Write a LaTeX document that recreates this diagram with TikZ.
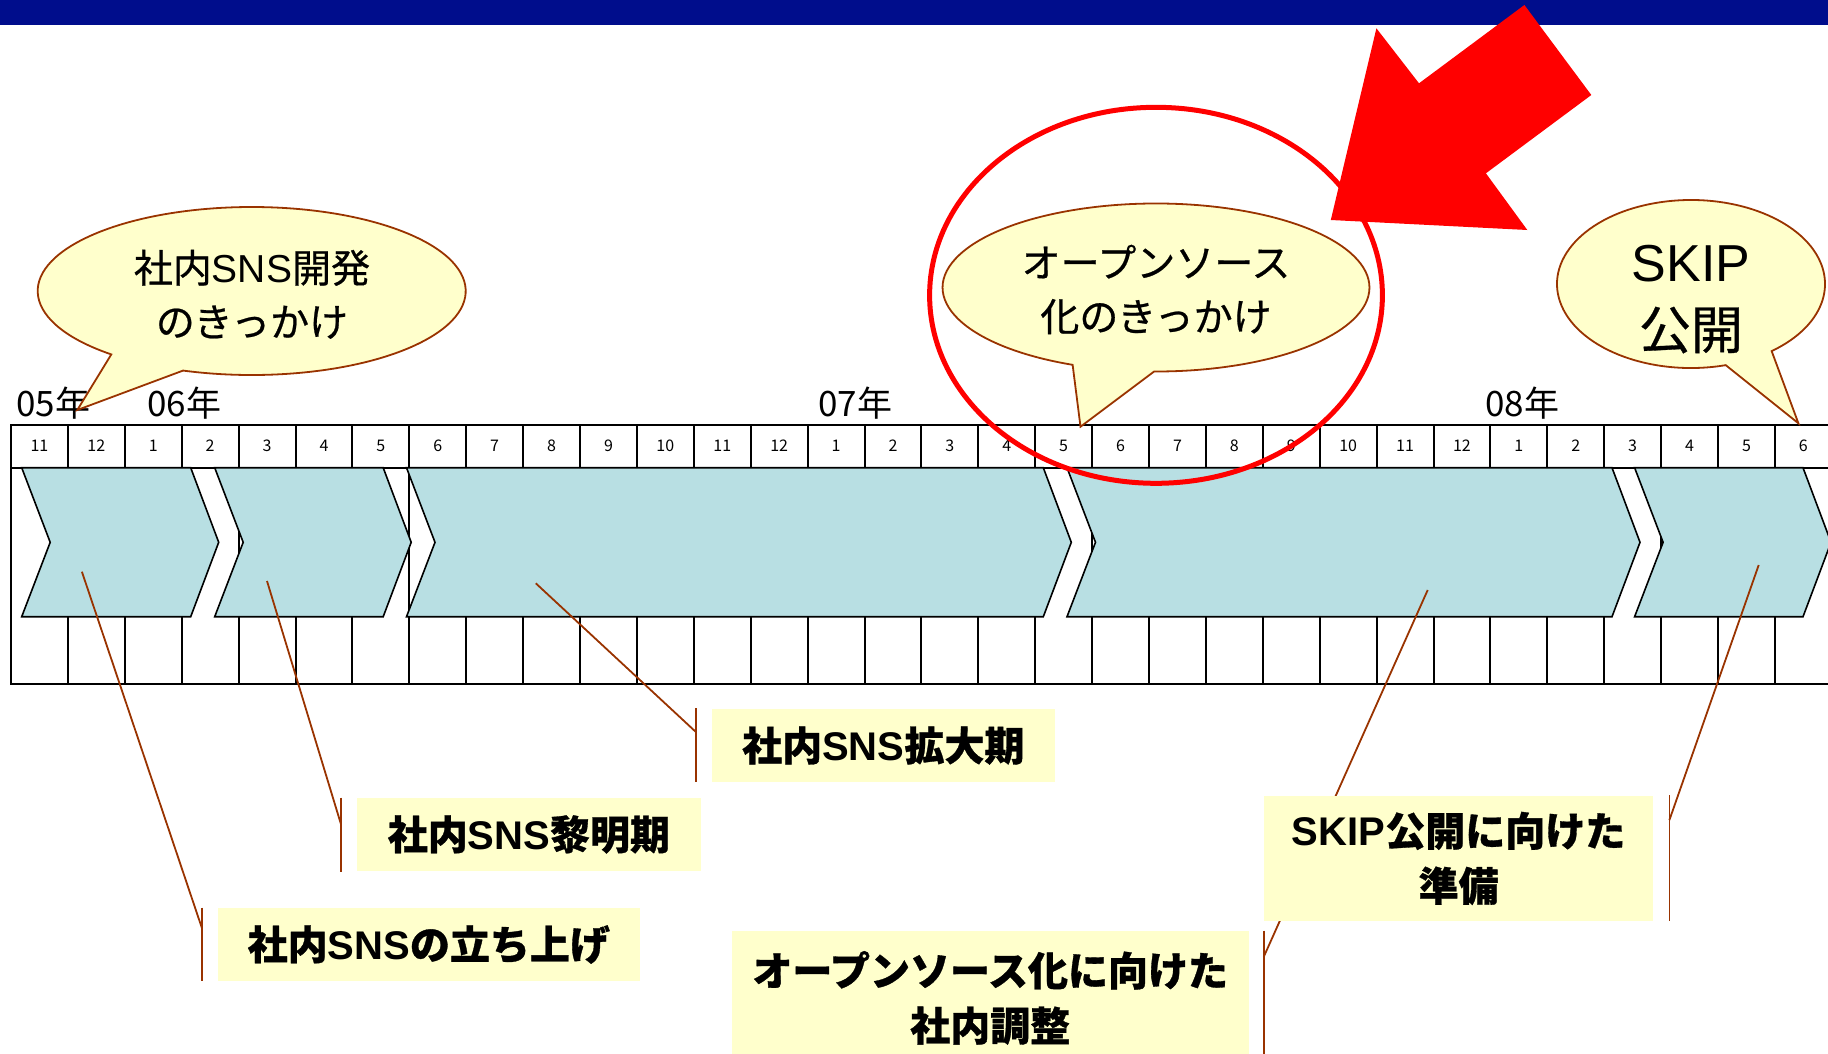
\documentclass[tikz,border=0pt]{standalone}
\usepackage{fontspec}
\setmainfont{Noto Sans CJK JP}
\newfontfamily\lat{Liberation Sans}
\usetikzlibrary{calc}
\definecolor{navybar}{RGB}{0,13,140}
\definecolor{chevblue}{RGB}{184,223,227}
\definecolor{paleyellow}{RGB}{255,255,204}
\definecolor{bubblebrown}{RGB}{153,51,0}
\definecolor{hotred}{RGB}{255,0,0}
\begin{document}
\begin{tikzpicture}[x=1pt,y=-1pt,
  gridline/.style={draw=black,line width=2pt},
  chev/.style={draw=black,line width=1.6pt,fill=chevblue,line join=miter},
  monthlbl/.style={font=\fontsize{16}{18}\selectfont,inner sep=0pt},
  yearlbl/.style={font=\fontsize{35}{40}\selectfont,inner sep=0pt,anchor=west},
  bubble/.style={draw=bubblebrown,line width=1.8pt,fill=paleyellow},
  bubbletext/.style={font=\fontsize{39}{54}\selectfont\addfontfeatures{FakeBold=0.6},align=center,inner sep=0pt},
  labelbox/.style={fill=paleyellow,inner sep=0pt,align=center,font=\bfseries\fontsize{40}{55}\selectfont\addfontfeatures{FakeBold=0.8}},
  leader/.style={draw=bubblebrown,line width=1.8pt},
]
\useasboundingbox (0,0) rectangle (1828,1053);
\clip (0,0) rectangle (1828,1053);

% top bar
\fill[navybar] (0,0) rectangle (1828,25);

% table grid
\draw[gridline] (11,425) rectangle (1850,684);
\draw[gridline] (11,467.7) -- (1850,467.7);
\foreach \i in {1,...,32}
  \draw[gridline] ({11+56.9*\i},425) -- ({11+56.9*\i},684);

% month labels
\foreach \m [count=\i from 0] in {11,12,1,2,3,4,5,6,7,8,9,10,11,12,1,2,3,4,5,6,7,8,9,10,11,12,1,2,3,4,5,6}
  \node[monthlbl] (m\i) at ({11+56.9*(\i+0.5)},446) {\m};

% year labels
\node[yearlbl] (y05) at (16,403) {05年};
\node[yearlbl] (y06) at (147,403) {06年};
\node[yearlbl] (y07) at (818,403) {07年};
\node[yearlbl] (y08) at (1485,403) {08年};

% chevrons
\foreach \L/\R in {21.7/218.7, 214.7/411.2, 406.5/1071.3, 1067/1640, 1634.6/1831}
  \draw[chev] (\L,467.7) -- ({\R-28},467.7) -- (\R,542.3) -- ({\R-28},616.7)
     -- (\L,616.7) -- ({\L+28.5},542.3) -- cycle;

% leader lines
\coordinate (s1) at (81.9,571.7);   \coordinate (e1) at (202,928.3);
\coordinate (t1) at (202,907.7);    \coordinate (u1) at (202,980.7);
\coordinate (s2) at (267,581);      \coordinate (e2) at (340.7,823.3);
\coordinate (t2) at (340.7,797.7);  \coordinate (u2) at (340.7,871.7);
\coordinate (s3) at (535.8,583.3);  \coordinate (e3) at (695.6,731.7);
\coordinate (t3) at (695.6,708.3);  \coordinate (u3) at (695.6,781.7);
\coordinate (s4) at (1758.7,565);   \coordinate (e4) at (1669.4,820);
\coordinate (t4) at (1669.4,795);   \coordinate (u4) at (1669.4,920.7);
\coordinate (s5) at (1427.7,590);   \coordinate (e5) at (1263.8,956.7);
\coordinate (t5) at (1263.8,930.7); \coordinate (u5) at (1263.8,1060);
\foreach \k in {1,...,5} {
  \draw[leader] (s\k) -- (e\k);
  \draw[leader] (t\k) -- (u\k);
}

% label boxes
\node[labelbox,minimum width=421.6pt,minimum height=72.4pt] (lab1) at (428.8,944.5) {社内{\lat SNS}の立ち上げ};
\node[labelbox,minimum width=344.3pt,minimum height=73.3pt] (lab2) at (528.9,834.4) {社内{\lat SNS}黎明期};
\node[labelbox,minimum width=343.5pt,minimum height=72.4pt] (lab3) at (883.3,745.5) {社内{\lat SNS}拡大期};
\node[labelbox,minimum width=389.6pt,minimum height=124.7pt] (lab4) at (1458.6,858.4) {{\lat SKIP}公開に向けた\\準備};
\node[labelbox,minimum width=516.6pt,minimum height=134.3pt] (lab5) at (990.2,997.9) {オープンソース化に向けた\\社内調整};

% callout 1
\coordinate (b1c) at (251.7,291);
\coordinate (b1tip) at (77.3,410);
\path[bubble] (b1tip) -- ($(b1c)+(131:214 and 84)$)
  arc[start angle=131,end angle=468.7,x radius=214,y radius=84] -- cycle;
\node[bubbletext] (b1t) at (252,294.3) {社内{\lat SNS}開発\\のきっかけ};

% callout 2
\coordinate (b2c) at (1156,287.5);
\coordinate (b2tip) at (1080.5,426.7);
\path[bubble] (b2tip) -- ($(b2c)+(113:213.4 and 84)$)
  arc[start angle=113,end angle=450.5,x radius=213.4,y radius=84] -- cycle;
\node[bubbletext] (b2t) at (1156,289.5) {オープンソース\\化のきっかけ};

% callout 3
\coordinate (b3c) at (1691,284);
\coordinate (b3tip) at (1798.4,423.3);
\path[bubble] (b3tip) -- ($(b3c)+(75:134 and 84)$)
  arc[start angle=75,end angle=413,x radius=134,y radius=84] -- cycle;
\node[bubbletext,font=\fontsize{52}{67}\selectfont\addfontfeatures{FakeBold=0.6}] (b3t) at (1691,299.5) {{\lat SKIP}\\公開};

% red ellipse
\draw[hotred,line width=5pt] (1156,295.3) ellipse[x radius=226.4,y radius=188];

% red arrow
\fill[hotred] (1330.8,220) -- (1376.4,28.3) -- (1419,83.3) -- (1524.4,5)
  -- (1591.3,95) -- (1485.9,173.3) -- (1527.3,230) -- cycle;
\end{tikzpicture}
\end{document}
